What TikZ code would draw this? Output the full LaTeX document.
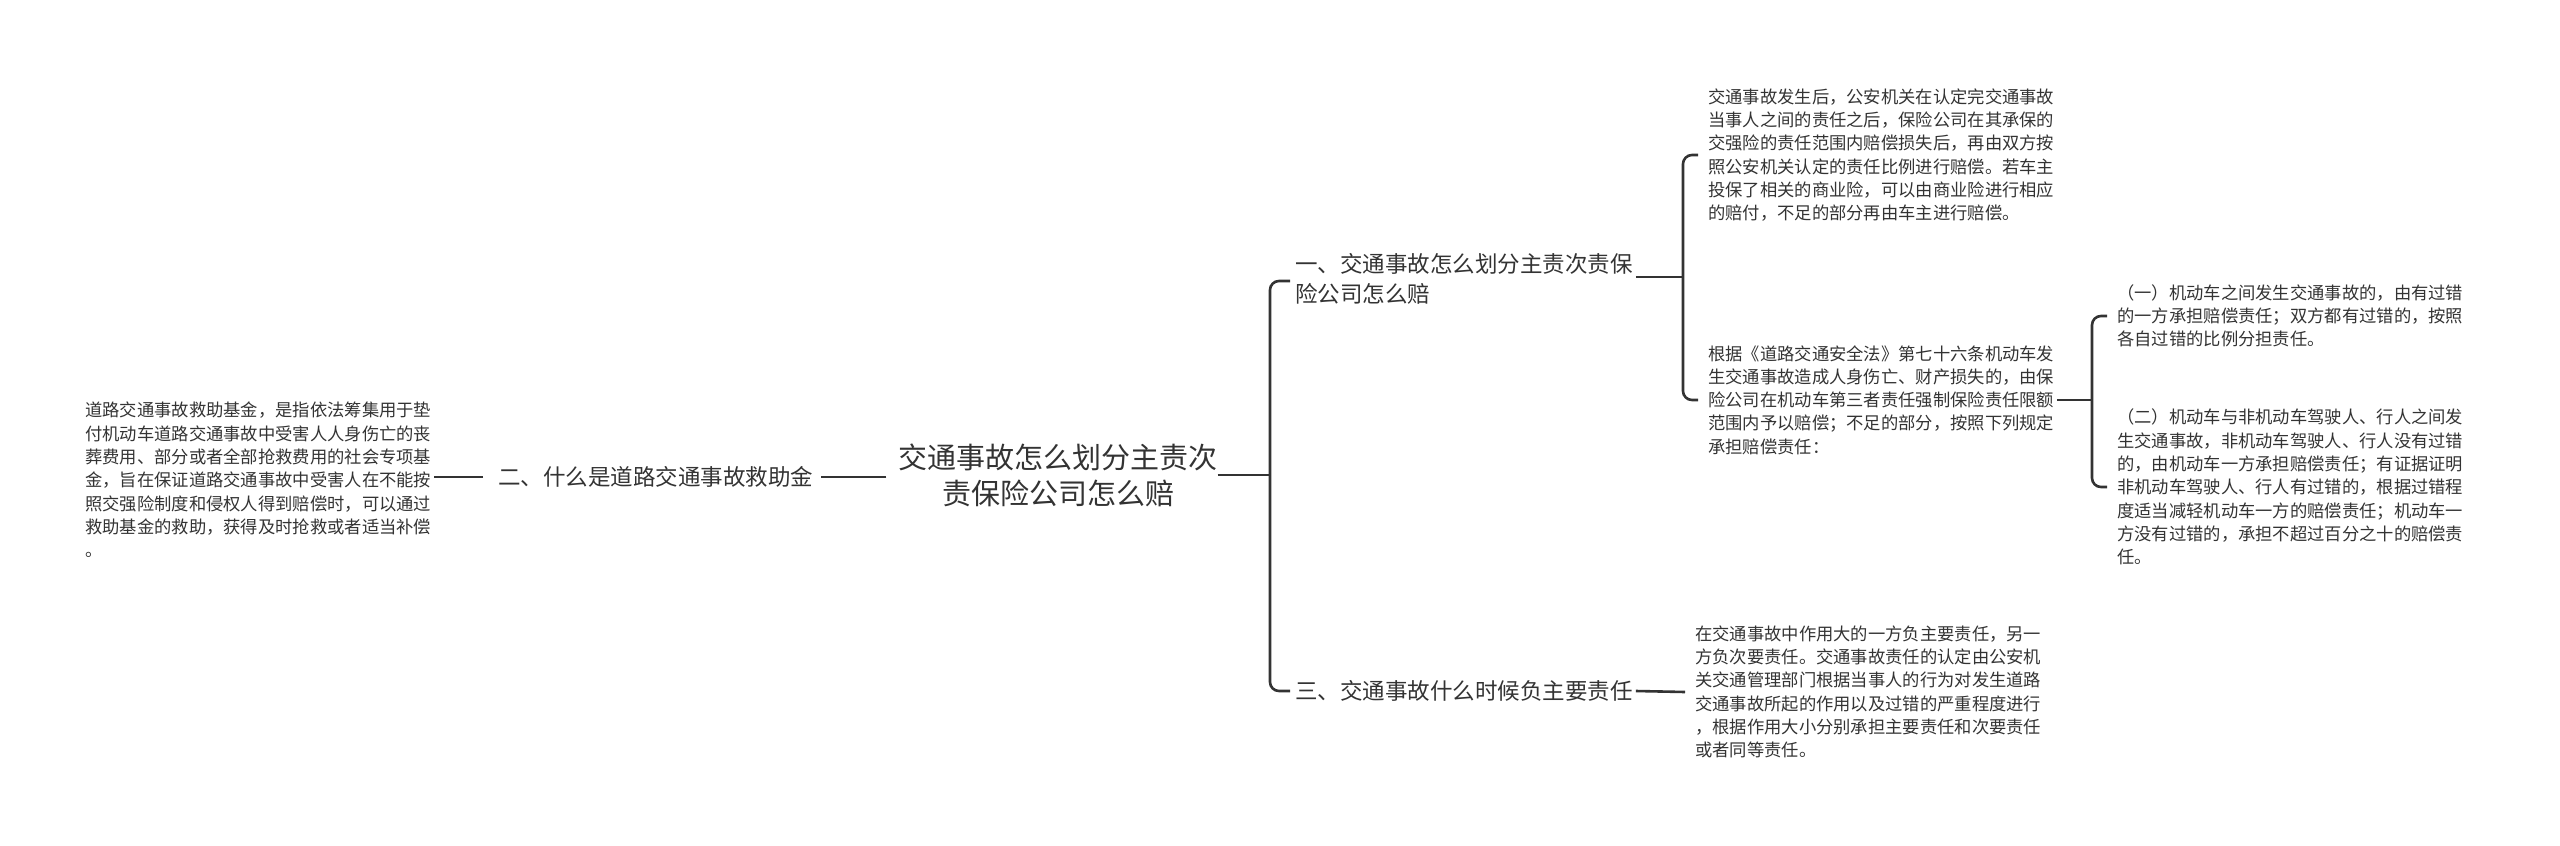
\documentclass[tikz,border=0pt]{standalone}
\usepackage{fontspec}
\setmainfont{Noto Sans CJK SC}
\begin{document}
\begin{tikzpicture}[x=1pt,y=-1pt,
  every node/.style={inner sep=0pt,text=black!80},
  root/.style={font=\fontsize{29}{36}\selectfont,align=center},
  branch/.style={font=\fontsize{22.5}{30}\selectfont,align=left,anchor=west},
  leaf/.style={font=\fontsize{17.3}{23.3}\selectfont,align=left,anchor=west},
  conn/.style={draw=black!80,line width=2.6pt,rounded corners=9pt}]
\useasboundingbox (0,0) rectangle (2560,846);
\node[root] (r) at (1058,475) {交通事故怎么划分主责次\\责保险公司怎么赔};
\node[branch] (b2) at (498,477) {二、什么是道路交通事故救助金};
\node[leaf] (l2) at (85,480) {道路交通事故救助基金，是指依法筹集用于垫\\付机动车道路交通事故中受害人人身伤亡的丧\\葬费用、部分或者全部抢救费用的社会专项基\\金，旨在保证道路交通事故中受害人在不能按\\照交强险制度和侵权人得到赔偿时，可以通过\\救助基金的救助，获得及时抢救或者适当补偿\\。};
\node[branch] (b1) at (1295,279) {一、交通事故怎么划分主责次责保\\险公司怎么赔};
\node[branch] (b3) at (1295,691) {三、交通事故什么时候负主要责任};
\node[leaf] (a) at (1708,155) {交通事故发生后，公安机关在认定完交通事故\\当事人之间的责任之后，保险公司在其承保的\\交强险的责任范围内赔偿损失后，再由双方按\\照公安机关认定的责任比例进行赔偿。若车主\\投保了相关的商业险，可以由商业险进行相应\\的赔付，不足的部分再由车主进行赔偿。};
\node[leaf] (b) at (1708,400) {根据《道路交通安全法》第七十六条机动车发\\生交通事故造成人身伤亡、财产损失的，由保\\险公司在机动车第三者责任强制保险责任限额\\范围内予以赔偿；不足的部分，按照下列规定\\承担赔偿责任：};
\node[leaf] (c) at (2117,316) {（一）机动车之间发生交通事故的，由有过错\\的一方承担赔偿责任；双方都有过错的，按照\\各自过错的比例分担责任。};
\node[leaf] (d) at (2117,487) {（二）机动车与非机动车驾驶人、行人之间发\\生交通事故，非机动车驾驶人、行人没有过错\\的，由机动车一方承担赔偿责任；有证据证明\\非机动车驾驶人、行人有过错的，根据过错程\\度适当减轻机动车一方的赔偿责任；机动车一\\方没有过错的，承担不超过百分之十的赔偿责\\任。};
\node[leaf] (e) at (1695,692) {在交通事故中作用大的一方负主要责任，另一\\方负次要责任。交通事故责任的认定由公安机\\关交通管理部门根据当事人的行为对发生道路\\交通事故所起的作用以及过错的严重程度进行\\，根据作用大小分别承担主要责任和次要责任\\或者同等责任。};
\coordinate (j0) at (1270,475);
\coordinate (j1) at (1683,277);
\coordinate (j2) at (2092,400);
\draw[conn] (r.east) -- (j0);
\draw[conn] ([xshift=-5pt]b1.west |- 0,281) -- (j0 |- 0,281) -- (j0 |- 0,691) -- ([xshift=-5pt]b3.west);
\draw[conn] (r.west) ++(-12,2) -- ([xshift=8pt]b2.east);
\draw[conn] ([xshift=-15pt]b2.west) -- ([xshift=3pt]l2.east |- b2.west);
\draw[conn] ([xshift=3pt]b1.east |- 0,277) -- (j1);
\draw[conn] ([xshift=-10pt]a.west) -- (j1 |- a.west) -- (j1 |- b.west) -- ([xshift=-10pt]b.west);
\draw[conn] ([xshift=3pt]b.east) -- (j2);
\draw[conn] ([xshift=-10pt]c.west) -- (j2 |- c.west) -- (j2 |- d.west) -- ([xshift=-10pt]d.west);
\draw[conn] ([xshift=3pt]b3.east) -- ([xshift=-10pt]e.west);
\end{tikzpicture}
\end{document}
